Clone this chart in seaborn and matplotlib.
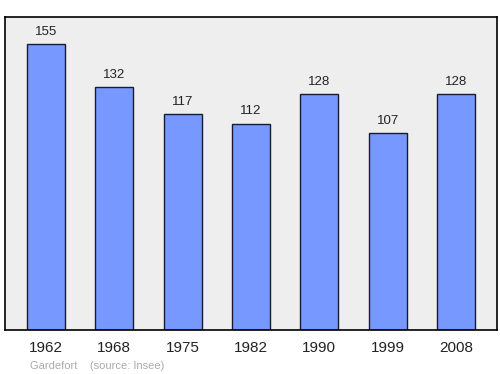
import matplotlib
matplotlib.use("Agg")
import matplotlib.pyplot as plt
import seaborn as sns
import pandas as pd

years = ["1962", "1968", "1975", "1982", "1990", "1999", "2008"]
population = [155, 132, 117, 112, 128, 107, 128]
commune = "Gardefort"
source = "(source: Insee)"

sns.set_style("white")
plt.rcParams['font.family'] = ['Liberation Sans', 'DejaVu Sans']

df = pd.DataFrame({"year": years, "pop": population})

fig = plt.figure(figsize=(5.0, 3.74), dpi=100)
ax = fig.add_axes([0.01, 0.118, 0.984, 0.837])
ax.set_facecolor("#eeeeee")
sns.barplot(data=df, x="year", y="pop", ax=ax, color="#7799ff", saturation=1,
            width=0.56, edgecolor="#1a1a2e", linewidth=1.0)
ax.set_xlim(-0.6, 6.6)
ax.set_ylim(0, 170)
ax.set_yticks([])
ax.set_xlabel("")
ax.set_ylabel("")
for s in ax.spines.values():
    s.set_visible(True)
    s.set_color("black")
    s.set_linewidth(1.2)
ax.tick_params(axis="x", length=0, labelsize=11, pad=8, colors="#222222")
for i, v in enumerate(population):
    ax.annotate(str(v), (i, v), xytext=(0, 4.5), textcoords="offset points",
                ha="center", va="bottom", fontsize=9.5, color="#222222")
fig.text(0.06, 0.014, commune + "    " + source, fontsize=8, color="#aaaaaa")
fig.savefig("out.png", dpi=100)
